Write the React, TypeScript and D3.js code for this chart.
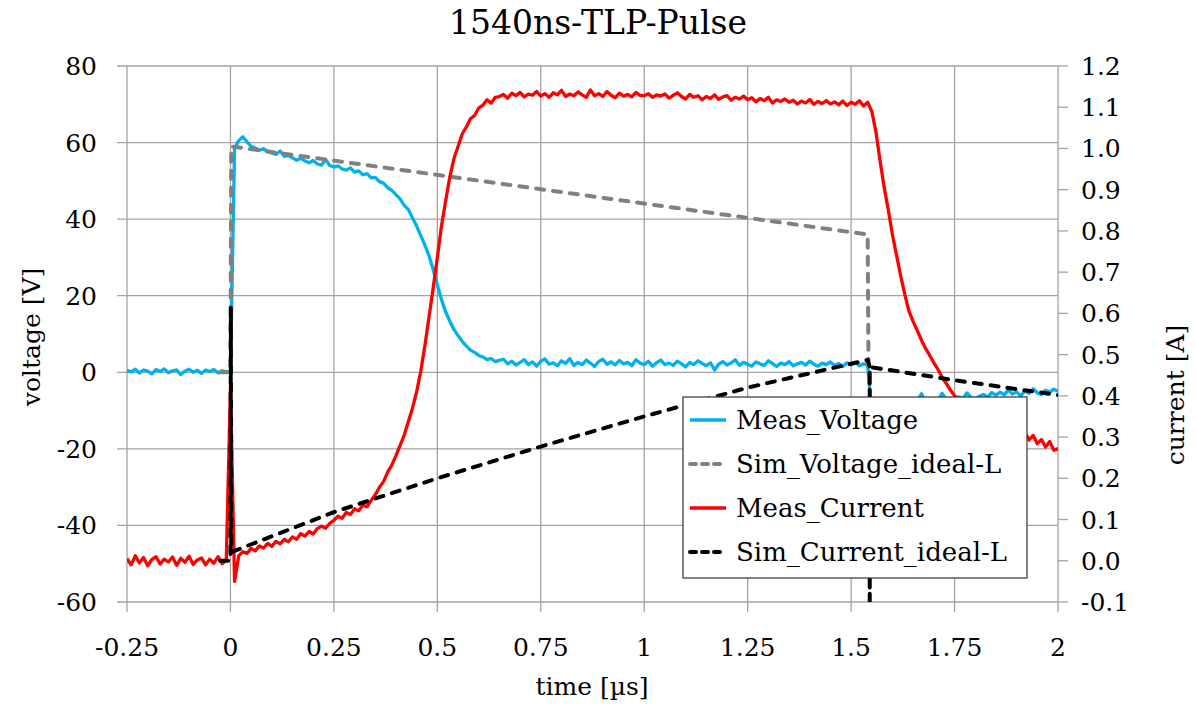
import React from 'react';
import * as d3 from 'd3';

// Sampling of the measured traces (oscilloscope grid)
const T_START = -0.25;
const T_STEP = 0.01;

// Meas_Voltage [V], one row = 10 samples, row start time in comment
const MEAS_VOLTAGE: number[] = [
  /* -0.25 */ 0.5, 0.1, 0.8, -0.2, 0.6, 0.3, -0.4, 0.7, 0.2, 0.9,
  /* -0.15 */ -0.1, 0.4, 0.6, -0.6, 0.3, 0.8, 0.0, 0.5, -0.3, 0.6,
  /* -0.05 */ 0.2, 0.7, -0.2, 0.4, 0.1, 0.3, 58.5, 60.5, 61.5, 60.2,
  /* 0.05 */ 59.0, 58.6, 58.0, 58.4, 57.6, 57.3, 56.9, 57.8, 56.4, 56.6,
  /* 0.15 */ 56.0, 55.4, 55.9, 55.2, 54.7, 55.3, 54.4, 54.1, 55.6, 54.0,
  /* 0.25 */ 53.6, 53.9, 53.1, 52.8, 53.4, 52.3, 52.6, 51.6, 51.9, 50.8,
  /* 0.35 */ 50.9, 49.8, 49.4, 48.2, 47.5, 46.4, 45.3, 43.6, 42.5, 40.3,
  /* 0.45 */ 38.2, 35.7, 33.2, 30.4, 26.8, 22.9, 19.0, 15.8, 13.4, 11.2,
  /* 0.55 */ 9.6, 8.1, 6.9, 5.8, 5.2, 4.4, 4.0, 3.3, 3.6, 2.8,
  /* 0.65 */ 3.1, 3.4, 2.2, 2.9, 1.9, 2.6, 3.3, 2.0, 2.7, 1.6,
  /* 0.75 */ 2.9, 3.5, 2.1, 2.5, 1.7, 3.0, 2.3, 3.6, 1.8, 2.6,
  /* 0.85 */ 2.0, 3.2, 2.4, 1.5, 2.8, 3.4, 2.1, 2.7, 1.9, 3.1,
  /* 0.95 */ 2.2, 2.6, 1.7, 3.3, 2.4, 2.0, 2.9, 1.6, 2.5, 3.2,
  /* 1.05 */ 2.0, 2.4, 1.8, 2.9, 2.2, 1.4, 2.6, 2.0, 3.0, 2.3,
  /* 1.15 */ 1.7, 2.5, 0.6, 2.1, 2.8, 1.9, 2.4, 3.3, 1.8, 2.6,
  /* 1.25 */ 2.1, 1.6, 2.7, 2.2, 1.8, 3.0, 2.3, 1.5, 2.4, 2.0,
  /* 1.35 */ 2.8, 1.7, 2.2, 2.6, 1.9, 2.9, 2.1, 1.6, 2.4, 2.0,
  /* 1.45 */ 2.7, 1.8, 2.3, 1.5, 2.5, 2.0, 2.6, 1.7, 2.2, 1.9,
  /* 1.55 */ -12.0, -10.5, -9.2, -8.6, -8.1, -7.9, -7.6, -8.2, -7.3, -7.8,
  /* 1.65 */ -7.0, -7.5, -5.6, -7.8, -7.2, -6.9, -7.4, -5.5, -7.1, -6.8,
  /* 1.75 */ -7.2, -6.4, -6.9, -5.4, -6.6, -7.0, -6.2, -5.8, -6.5, -5.3,
  /* 1.85 */ -6.0, -5.2, -5.9, -4.6, -5.7, -5.1, -6.2, -4.8, -5.5, -4.3,
  /* 1.95 */ -5.4, -5.8, -4.7, -5.2, -4.4, -5.0,
];

// Meas_Current [A]
const MEAS_CURRENT: number[] = [
  /* -0.25 */ 0.005, -0.010, 0.012, -0.005, 0.008, -0.012, 0.003, 0.010, -0.008, 0.004,
  /* -0.15 */ -0.003, 0.009, -0.011, 0.006, -0.004, 0.011, -0.009, 0.002, 0.007, -0.010,
  /* -0.05 */ 0.004, -0.006, 0.010, -0.007, 0.002, 0.42, -0.05, 0.012, 0.022, 0.018,
  /* 0.05 */ 0.030, 0.024, 0.036, 0.031, 0.042, 0.035, 0.047, 0.041, 0.052, 0.046,
  /* 0.15 */ 0.058, 0.052, 0.066, 0.060, 0.071, 0.065, 0.078, 0.084, 0.079, 0.091,
  /* 0.25 */ 0.098, 0.108, 0.103, 0.117, 0.112, 0.126, 0.121, 0.135, 0.131, 0.146,
  /* 0.35 */ 0.160, 0.178, 0.192, 0.215, 0.232, 0.255, 0.280, 0.305, 0.338, 0.370,
  /* 0.45 */ 0.410, 0.460, 0.522, 0.592, 0.662, 0.735, 0.812, 0.872, 0.930, 0.975,
  /* 0.55 */ 1.005, 1.035, 1.052, 1.072, 1.080, 1.098, 1.105, 1.118, 1.110, 1.124,
  /* 0.65 */ 1.126, 1.131, 1.122, 1.134, 1.128, 1.136, 1.125, 1.132, 1.129, 1.138,
  /* 0.75 */ 1.127, 1.133, 1.124, 1.135, 1.130, 1.141, 1.126, 1.132, 1.128, 1.137,
  /* 0.85 */ 1.130, 1.124, 1.142, 1.128, 1.133, 1.126, 1.138, 1.129, 1.123, 1.134,
  /* 0.95 */ 1.127, 1.131, 1.125, 1.136, 1.129, 1.128, 1.133, 1.124, 1.130, 1.127,
  /* 1.05 */ 1.132, 1.122, 1.129, 1.135, 1.126, 1.120, 1.131, 1.124, 1.128, 1.118,
  /* 1.15 */ 1.126, 1.121, 1.130, 1.119, 1.125, 1.128, 1.117, 1.124, 1.120, 1.127,
  /* 1.25 */ 1.118, 1.123, 1.113, 1.121, 1.116, 1.124, 1.110, 1.118, 1.114, 1.120,
  /* 1.35 */ 1.112, 1.117, 1.108, 1.115, 1.110, 1.119, 1.107, 1.114, 1.109, 1.116,
  /* 1.45 */ 1.108, 1.113, 1.106, 1.115, 1.104, 1.112, 1.107, 1.116, 1.103, 1.112,
  /* 1.55 */ 1.090, 1.040, 0.970, 0.905, 0.850, 0.790, 0.740, 0.690, 0.645, 0.605,
  /* 1.65 */ 0.580, 0.558, 0.535, 0.515, 0.498, 0.480, 0.464, 0.445, 0.430, 0.414,
  /* 1.75 */ 0.400, 0.392, 0.383, 0.375, 0.368, 0.361, 0.355, 0.349, 0.344, 0.340,
  /* 1.85 */ 0.336, 0.331, 0.327, 0.322, 0.318, 0.313, 0.309, 0.312, 0.293, 0.304,
  /* 1.95 */ 0.284, 0.294, 0.276, 0.289, 0.268, 0.272,
];

// Sim_Voltage_ideal-L
const SIM_VOLTAGE_T: number[] = [-0.025, 0, 0.002, 1.54, 1.542];
const SIM_VOLTAGE_V: number[] = [0, 0, 59, 36, 2];

// Sim_Current_ideal-L
const SIM_CURRENT_T: number[] = [-0.025, 0, 0.001, 0.002, 0.25, 0.5, 0.75, 1.0, 1.25, 1.54, 1.545, 1.545, 1.545, 1.75, 2.0];
const SIM_CURRENT_I: number[] = [0, 0, 0.615, 0.021, 0.118, 0.2, 0.277, 0.35, 0.42, 0.487, 0.47, -1.0, 0.47, 0.438, 0.402];

const X_TICKS: number[] = [-0.25, 0, 0.25, 0.5, 0.75, 1, 1.25, 1.5, 1.75, 2];
const X_TICK_LABELS: string[] = ['-0.25', '0', '0.25', '0.5', '0.75', '1', '1.25', '1.5', '1.75', '2'];
const V_TICKS: number[] = [80, 60, 40, 20, 0, -20, -40, -60];
const I_TICKS: number[] = [1.2, 1.1, 1.0, 0.9, 0.8, 0.7, 0.6, 0.5, 0.4, 0.3, 0.2, 0.1, 0.0, -0.1];

const SERIES_NAMES: string[] = ['Meas_Voltage', 'Sim_Voltage_ideal-L', 'Meas_Current', 'Sim_Current_ideal-L'];

const W = 1196;
const H = 709;
const FONT = '"DejaVu Serif", serif';

export default function App() {
  const x = d3.scaleLinear().domain([-0.25, 2]).range([127, 1058]);
  const yV = d3.scaleLinear().domain([-60, 80]).range([602, 66]);
  const yI = d3.scaleLinear().domain([-0.1, 1.2]).range([602, 66]);

  const measV: [number, number][] = MEAS_VOLTAGE.map((v, i) => [T_START + i * T_STEP, v]);
  const measI: [number, number][] = MEAS_CURRENT.map((v, i) => [T_START + i * T_STEP, v]);
  const simV: [number, number][] = SIM_VOLTAGE_T.map((t, i) => [t, SIM_VOLTAGE_V[i]]);
  const simI: [number, number][] = SIM_CURRENT_T.map((t, i) => [t, SIM_CURRENT_I[i]]);

  const lineV = d3.line<[number, number]>().x((d) => x(d[0])).y((d) => yV(d[1]));
  const lineI = d3.line<[number, number]>().x((d) => x(d[0])).y((d) => yI(d[1]));

  const [x0, x1] = x.range();
  const yTop = 66;
  const yBot = 602;

  const styles = [
    { color: '#00B0F0', width: 3.3, dash: undefined as string | undefined },
    { color: '#808080', width: 4, dash: '8 9' },
    { color: '#FF0000', width: 3.3, dash: undefined as string | undefined },
    { color: '#000000', width: 4, dash: '8 9' },
  ];

  const legendX = 683;
  const legendY = 397;
  const legendW = 344;
  const legendH = 181;
  const rowGap = 44;

  const fmtI = (v: number) => v.toFixed(1);

  return (
    <svg
      width={W}
      height={H}
      style={{ position: 'absolute', left: 0, top: 0, background: '#fff' }}
      fontFamily={FONT}
    >
      <rect x={0} y={0} width={W} height={H} fill="#fff" />
      <defs>
        <clipPath id="plotClip">
          <rect x={x0} y={yTop} width={x1 - x0} height={yBot - yTop} />
        </clipPath>
      </defs>

      {/* horizontal gridlines + left tick marks */}
      {V_TICKS.map((v) => (
        <line key={'hg' + v} x1={x0 - 10} x2={x1} y1={yV(v)} y2={yV(v)} stroke="#a3a3a3" strokeWidth={1.3} />
      ))}
      {/* vertical gridlines + bottom tick marks */}
      {X_TICKS.map((t) => (
        <line key={'vg' + t} x1={x(t)} x2={x(t)} y1={yTop} y2={yBot + 10} stroke="#a3a3a3" strokeWidth={1.3} />
      ))}
      {/* right axis ticks */}
      {I_TICKS.map((v) => (
        <line key={'rt' + v} x1={x1} x2={x1 + 10} y1={yI(v)} y2={yI(v)} stroke="#a3a3a3" strokeWidth={1.3} />
      ))}

      {/* series */}
      <g clipPath="url(#plotClip)" fill="none" strokeLinejoin="round">
        <path d={lineV(measV) || ''} stroke={styles[0].color} strokeWidth={styles[0].width} />
        <path d={lineV(simV) || ''} stroke={styles[1].color} strokeWidth={styles[1].width} strokeDasharray={styles[1].dash} strokeLinecap="round" />
        <path d={lineI(measI) || ''} stroke={styles[2].color} strokeWidth={styles[2].width} />
        <path d={lineI(simI) || ''} stroke={styles[3].color} strokeWidth={styles[3].width} strokeDasharray={styles[3].dash} strokeLinecap="round" />
      </g>

      {/* left tick labels */}
      {V_TICKS.map((v) => (
        <text key={'vl' + v} x={97} y={yV(v) + 9} textAnchor="end" fontSize={25} fill="#000">
          {String(v)}
        </text>
      ))}
      {/* right tick labels */}
      {I_TICKS.map((v) => (
        <text key={'il' + v} x={1081} y={yI(v) + 9} textAnchor="start" fontSize={25} fill="#000">
          {fmtI(v)}
        </text>
      ))}
      {/* bottom tick labels */}
      {X_TICKS.map((t, i) => (
        <text key={'xl' + t} x={x(t)} y={656} textAnchor="middle" fontSize={25} fill="#000">
          {X_TICK_LABELS[i]}
        </text>
      ))}

      {/* titles */}
      <text x={598} y={34} textAnchor="middle" fontSize={33} fill="#000">1540ns-TLP-Pulse</text>
      <text x={592} y={695} textAnchor="middle" fontSize={25} fill="#000">time [µs]</text>
      <text transform="translate(40,337) rotate(-90)" textAnchor="middle" fontSize={25} fill="#000">voltage [V]</text>
      <text transform="translate(1184,395) rotate(-90)" textAnchor="middle" fontSize={25} fill="#000">current [A]</text>

      {/* legend */}
      <rect x={legendX} y={legendY} width={legendW} height={legendH} fill="#fff" stroke="#333" strokeWidth={1.2} />
      {SERIES_NAMES.map((name, i) => {
        const cy = legendY + 23 + i * rowGap;
        const s = styles[i];
        return (
          <g key={name}>
            <line
              x1={690}
              x2={726}
              y1={cy}
              y2={cy}
              stroke={s.color}
              strokeWidth={s.width}
              strokeDasharray={s.dash ? '6 6' : undefined}
              strokeLinecap={s.dash ? 'round' : 'butt'}
            />
            <text x={736} y={cy + 9} fontSize={26} fill="#000">{name}</text>
          </g>
        );
      })}
    </svg>
  );
}
